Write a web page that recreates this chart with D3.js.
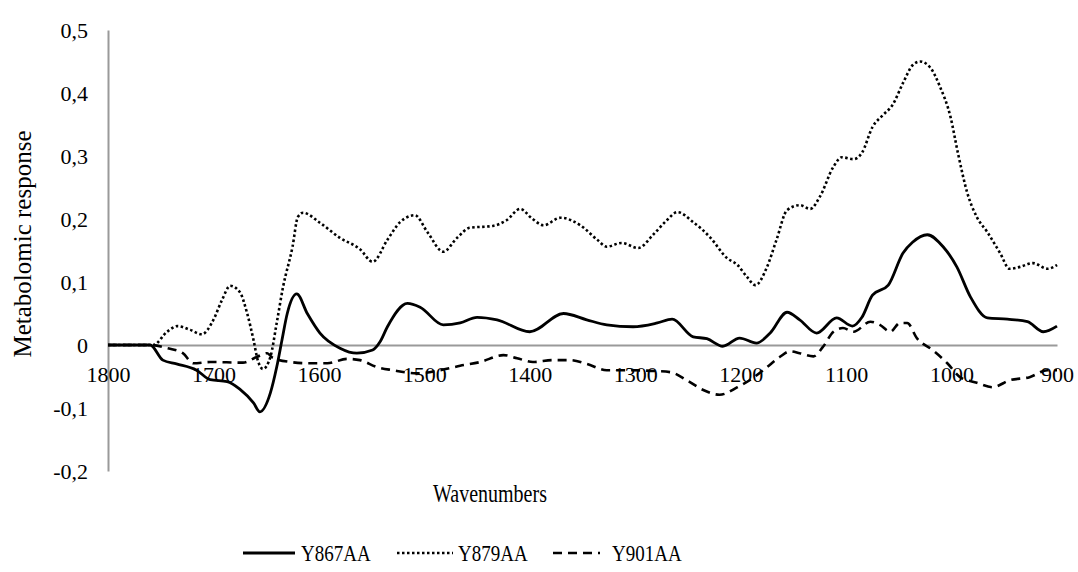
<!DOCTYPE html>
<html>
<head>
<meta charset="utf-8">
<script src="https://cdn.jsdelivr.net/npm/d3@7"></script>
<style>
  body { margin: 0; background: #fff; }
  svg { display: block; font-family: "Liberation Serif", "Times New Roman", serif; }
</style>
</head>
<body>
<div id="chart"></div>
<script>
// DATA
const seriesNames = ["Y867AA", "Y879AA", "Y901AA"];

const wn867 = [1800,1760,1748,1735,1716,1703,1687,1675,1662,1656,1646,1640,1635,1630,1621,1611,1599,1580,1564,1549,1542,1535,1516,1504,1482,1466,1450,1431,1400,1368,1346,1327,1302,1279,1265,1245,1232,1217,1201,1185,1172,1156,1144,1128,1109,1094,1085,1075,1060,1046,1037,1023,1008,995,982,966,947,928,913,900];
const val867 = [0,0,-0.024,-0.03,-0.04,-0.055,-0.058,-0.07,-0.092,-0.106,-0.076,-0.035,0.008,0.05,0.081,0.05,0.019,-0.005,-0.013,-0.008,0.005,0.029,0.066,0.06,0.032,0.035,0.044,0.04,0.021,0.05,0.04,0.032,0.029,0.035,0.041,0.013,0.01,-0.002,0.011,0.003,0.019,0.052,0.04,0.019,0.043,0.03,0.044,0.079,0.095,0.146,0.163,0.175,0.156,0.124,0.076,0.043,0.041,0.037,0.021,0.03];

const wn879 = [1800,1757,1744,1734,1722,1711,1700,1692,1684,1675,1668,1662,1658,1653,1646,1640,1634,1625,1620,1615,1599,1580,1561,1549,1535,1523,1509,1497,1482,1469,1457,1435,1422,1409,1398,1387,1371,1352,1336,1327,1313,1297,1283,1270,1260,1245,1229,1213,1203,1194,1186,1175,1166,1156,1144,1134,1125,1112,1104,1093,1085,1075,1065,1056,1046,1037,1030,1020,1011,1001,994,985,976,966,954,945,935,923,909,900];
const val879 = [0,0,0.021,0.03,0.024,0.017,0.04,0.071,0.094,0.084,0.05,0.008,-0.024,-0.038,-0.019,0.035,0.092,0.156,0.203,0.21,0.194,0.17,0.152,0.132,0.167,0.195,0.206,0.179,0.148,0.17,0.186,0.189,0.198,0.216,0.201,0.19,0.202,0.19,0.167,0.156,0.162,0.154,0.175,0.198,0.211,0.195,0.171,0.138,0.127,0.108,0.095,0.124,0.167,0.214,0.222,0.216,0.235,0.283,0.298,0.295,0.305,0.346,0.365,0.381,0.416,0.444,0.45,0.44,0.41,0.362,0.305,0.241,0.203,0.179,0.146,0.121,0.124,0.13,0.121,0.127];

const wn901 = [1800,1760,1744,1729,1719,1703,1672,1659,1649,1644,1627,1611,1592,1573,1561,1545,1530,1507,1485,1466,1447,1425,1412,1397,1378,1362,1346,1327,1302,1286,1267,1251,1236,1220,1203,1188,1175,1163,1153,1144,1131,1122,1112,1103,1093,1077,1068,1058,1049,1042,1033,1018,1004,992,976,961,945,926,909,900];
const val901 = [0,0,-0.005,-0.013,-0.029,-0.027,-0.028,-0.019,-0.013,-0.02,-0.027,-0.029,-0.029,-0.022,-0.024,-0.035,-0.04,-0.045,-0.04,-0.033,-0.027,-0.016,-0.021,-0.027,-0.024,-0.024,-0.03,-0.04,-0.04,-0.041,-0.043,-0.056,-0.071,-0.079,-0.067,-0.052,-0.035,-0.019,-0.01,-0.013,-0.018,-0.003,0.021,0.027,0.021,0.037,0.032,0.021,0.035,0.035,0.011,-0.008,-0.029,-0.051,-0.06,-0.067,-0.056,-0.051,-0.04,-0.04];

const xTicks = [1800,1700,1600,1500,1400,1300,1200,1100,1000,900];
const yTicks = [-0.2,-0.1,0,0.1,0.2,0.3,0.4,0.5];

const width = 1078, height = 572;
const serif = '"Liberation Serif", "Times New Roman", serif';

// line styles per series
const dash = ["none", "2.5,2.5", "9,6"];
const widths = [2.8, 2.6, 2.6];

const series = seriesNames.map((name, i) => {
  const wn = [wn867, wn879, wn901][i];
  const vals = [val867, val879, val901][i];
  return { name, values: wn.map((w, j) => ({ x: w, y: vals[j] })) };
});

const x = d3.scaleLinear().domain([1800, 900]).range([108, 1057]);
const y = d3.scaleLinear().domain([-0.2, 0.5]).range([471, 30]);

const loc = d3.formatLocale({ decimal: ",", thousands: ".", grouping: [3], currency: ["", ""], minus: "-" });
const fmt = loc.format("~g");

const svg = d3.select("#chart").append("svg")
    .attr("width", width)
    .attr("height", height);

// y axis
const yAxis = svg.append("g")
    .attr("transform", `translate(${x(1800)},0)`)
    .call(d3.axisLeft(y).tickValues(yTicks).tickSize(0).tickPadding(20).tickFormat(fmt))
    .attr("font-family", serif);
yAxis.select(".domain").attr("stroke", "#9a9a9a").attr("stroke-width", 2);
yAxis.selectAll("text").style("font-size", "22px").attr("fill", "#000");

// x axis sits on zero
const xAxis = svg.append("g")
    .attr("transform", `translate(0,${y(0)})`)
    .call(d3.axisBottom(x).tickValues(xTicks).tickSize(0).tickPadding(21).tickFormat(d3.format("d")))
    .attr("font-family", serif);
xAxis.select(".domain").attr("stroke", "#9a9a9a").attr("stroke-width", 2);
xAxis.selectAll("text").style("font-size", "22px").attr("fill", "#000");

// lines
const line = d3.line()
    .x(d => x(d.x))
    .y(d => y(d.y))
    .curve(d3.curveMonotoneX);

svg.append("g").selectAll("path")
    .data(series)
    .enter().append("path")
    .attr("d", d => line(d.values))
    .attr("fill", "none")
    .attr("stroke", "#000")
    .attr("stroke-width", (d, i) => widths[i])
    .attr("stroke-dasharray", (d, i) => dash[i])
    .attr("stroke-linejoin", "round");

// axis titles
svg.append("text")
    .attr("transform", "translate(31,244) rotate(-90)")
    .attr("text-anchor", "middle")
    .style("font-size", "25px")
    .attr("fill", "#000")
    .text("Metabolomic response");

svg.append("text")
    .attr("transform", "translate(490,502) scale(1,1.22)")
    .attr("text-anchor", "middle")
    .style("font-size", "20px")
    .attr("fill", "#000")
    .text("Wavenumbers");

// legend
const legendX = [243, 397, 553];
const legendLen = [52, 56, 47];
const legendTextX = [301, 458, 612];
const legend = svg.append("g");
series.forEach((s, i) => {
  legend.append("line")
      .attr("x1", legendX[i]).attr("x2", legendX[i] + legendLen[i])
      .attr("y1", 553).attr("y2", 553)
      .attr("stroke", "#000")
      .attr("stroke-width", widths[i])
      .attr("stroke-dasharray", dash[i]);
  legend.append("text")
      .attr("transform", `translate(${legendTextX[i]},561) scale(1,1.2)`)
      .style("font-size", "19px")
      .attr("fill", "#000")
      .text(s.name);
});
</script>
</body>
</html>
